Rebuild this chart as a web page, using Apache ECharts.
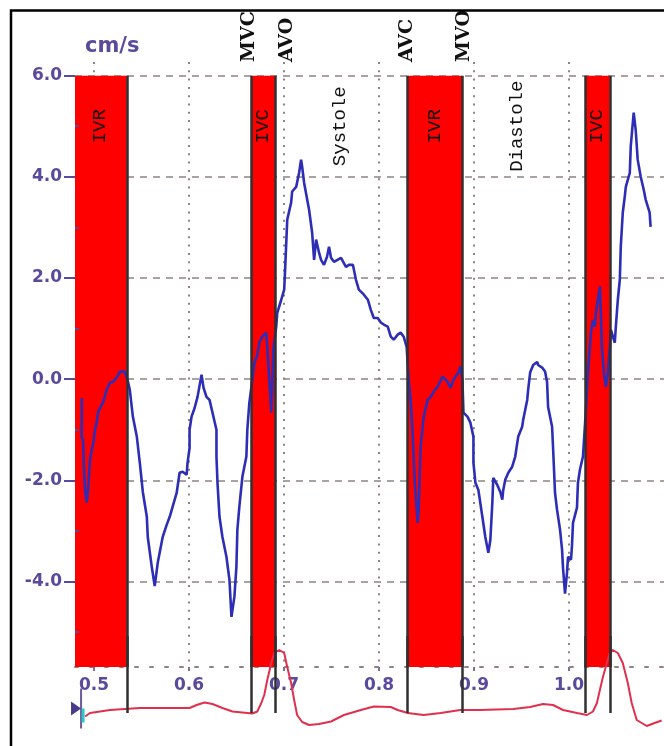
<!DOCTYPE html>
<html>
<head>
<meta charset="utf-8">
<script src="https://cdn.jsdelivr.net/npm/echarts@6/dist/echarts.min.js"></script>
<style>
  html, body { margin: 0; padding: 0; background: #ffffff; }
  #chart { width: 664px; height: 746px; }
</style>
</head>
<body>
<div id="chart"></div>
<script>
// Tissue Doppler velocity trace: time (s) and velocity (cm/s)
const velT = [0.4871,0.4871,0.4885,0.4895,0.4906,0.4923,0.4937,0.4958,0.4976,0.4993,0.5010,0.5028,0.5045,0.5081,0.5097,0.5133,0.5168,0.5202,0.5238,0.5273,0.5325,0.5360,0.5377,0.5409,0.5451,0.5482,0.5514,0.5556,0.5566,0.5608,0.5639,0.5671,0.5723,0.5765,0.5797,0.5828,0.5870,0.5901,0.5933,0.5975,0.5985,0.6006,0.6006,0.6027,0.6059,0.6090,0.6132,0.6153,0.6184,0.6216,0.6247,0.6289,0.6289,0.6300,0.6321,0.6352,0.6394,0.6426,0.6447,0.6478,0.6499,0.6509,0.6530,0.6562,0.6604,0.6614,0.6635,0.6667,0.6688,0.6719,0.6740,0.6771,0.6813,0.6824,0.6845,0.6866,0.6876,0.6887,0.6918,0.6929,0.6971,0.7002,0.7013,0.7034,0.7075,0.7086,0.7128,0.7159,0.7180,0.7191,0.7212,0.7264,0.7296,0.7317,0.7338,0.7369,0.7390,0.7421,0.7453,0.7474,0.7495,0.7526,0.7600,0.7652,0.7683,0.7725,0.7757,0.7788,0.7841,0.7883,0.7914,0.7945,0.7987,0.8019,0.8050,0.8092,0.8124,0.8155,0.8197,0.8228,0.8260,0.8291,0.8312,0.8333,0.8354,0.8375,0.8407,0.8417,0.8438,0.8470,0.8512,0.8543,0.8574,0.8616,0.8669,0.8721,0.8753,0.8784,0.8836,0.8857,0.8878,0.8889,0.8931,0.8962,0.8994,0.8994,0.9015,0.9046,0.9088,0.9119,0.9151,0.9172,0.9193,0.9203,0.9245,0.9277,0.9298,0.9308,0.9329,0.9361,0.9402,0.9434,0.9465,0.9507,0.9518,0.9560,0.9570,0.9591,0.9623,0.9665,0.9675,0.9717,0.9748,0.9769,0.9780,0.9822,0.9832,0.9853,0.9874,0.9906,0.9927,0.9937,0.9958,0.9979,0.9990,1.0021,1.0031,1.0042,1.0084,1.0094,1.0115,1.0147,1.0178,1.0199,1.0220,1.0231,1.0252,1.0273,1.0283,1.0304,1.0325,1.0335,1.0346,1.0367,1.0388,1.0409,1.0430,1.0440,1.0482,1.0493,1.0514,1.0535,1.0545,1.0566,1.0587,1.0598,1.0640,1.0650,1.0681,1.0702,1.0723,1.0755,1.0786,1.0807,1.0849,1.0859];
const velV = [-0.37,-1.16,-1.20,-1.79,-2.19,-2.44,-2.19,-1.59,-1.40,-1.26,-1.00,-0.86,-0.64,-0.51,-0.45,-0.21,-0.07,-0.05,0.03,0.15,0.15,-0.07,-0.21,-0.74,-1.14,-1.65,-2.23,-2.72,-3.12,-3.71,-4.09,-3.63,-3.12,-2.88,-2.72,-2.52,-2.25,-1.85,-1.83,-1.89,-1.65,-1.36,-1.00,-0.74,-0.57,-0.35,0.09,-0.17,-0.35,-0.41,-0.66,-1.00,-1.53,-2.05,-2.72,-3.12,-3.51,-3.97,-4.70,-4.30,-3.71,-2.98,-2.52,-1.93,-1.53,-1.00,-0.47,-0.01,0.32,0.48,0.72,0.84,0.92,0.64,-0.01,-0.66,-0.15,0.58,1.04,1.31,1.57,1.77,2.22,3.15,3.49,3.71,3.80,4.08,4.34,4.20,3.88,3.35,2.90,2.36,2.76,2.50,2.36,2.26,2.42,2.62,2.40,2.32,2.40,2.22,2.26,2.26,1.97,1.77,1.67,1.57,1.37,1.21,1.21,1.12,1.08,1.04,0.84,0.78,0.88,0.92,0.84,0.64,-0.01,-0.41,-1.06,-1.99,-2.84,-2.58,-1.34,-0.74,-0.41,-0.35,-0.25,-0.15,0.05,-0.05,-0.17,-0.01,0.13,0.25,-0.01,-0.66,-0.74,-0.86,-1.14,-1.65,-2.05,-2.19,-2.72,-3.12,-3.43,-3.18,-2.44,-1.95,-2.09,-2.23,-2.38,-2.19,-1.99,-1.85,-1.73,-1.53,-1.14,-0.94,-0.80,-0.41,-0.21,0.13,0.28,0.34,0.28,0.23,0.15,-0.05,-0.55,-0.94,-1.34,-2.25,-2.58,-2.98,-3.37,-3.73,-4.24,-3.83,-3.51,-3.57,-3.31,-2.84,-2.54,-2.05,-1.79,-1.53,-0.61,0.13,0.64,0.92,1.17,1.04,1.31,1.57,1.83,1.31,0.64,0.13,-0.15,0.13,0.64,0.98,0.72,1.04,1.57,1.97,2.62,3.29,3.61,3.80,4.08,4.60,5.27,4.93,4.34,4.00,3.75,3.55,3.29,3.01];

// ECG lead: time (s) and amplitude (mV)
const ecgT = [0.4906,0.4958,0.5063,0.5168,0.5482,0.6006,0.6080,0.6164,0.6247,0.6352,0.6457,0.6562,0.6667,0.6719,0.6761,0.6792,0.6824,0.6866,0.6897,0.6950,0.7002,0.7034,0.7075,0.7107,0.7138,0.7191,0.7264,0.7369,0.7495,0.7631,0.7809,0.7945,0.8124,0.8197,0.8302,0.8470,0.8648,0.8857,0.9067,0.9413,0.9591,0.9727,0.9832,0.9937,1.0084,1.0189,1.0252,1.0294,1.0325,1.0357,1.0398,1.0430,1.0461,1.0514,1.0566,1.0619,1.0660,1.0713,1.0818,1.0901,1.0975];
const ecgV = [-0.11,-0.04,-0.01,0.02,0.06,0.06,0.12,0.17,0.14,0.06,-0.01,-0.03,-0.05,-0.01,0.16,0.32,0.62,0.96,1.16,1.22,1.16,0.88,0.56,0.22,-0.08,-0.22,-0.28,-0.26,-0.21,-0.08,0.02,0.09,0.08,0.02,-0.04,-0.08,-0.04,0.02,0.02,0.04,0.08,0.14,0.12,0.02,-0.04,-0.08,-0.01,0.16,0.42,0.68,0.96,1.16,1.22,1.16,0.96,0.56,0.16,-0.18,-0.30,-0.24,-0.19];

// Isovolumic phases (s)
const phaseName  = ['IVR', 'IVC', 'IVR', 'IVC'];
const phaseStart = [0.478, 0.6653, 0.8299, 1.0168];
const phaseEnd   = [0.5346, 0.6908, 0.8875, 1.0430];

// Valve events (s); every phase edge gets a marker line
const valveT = [0.5346, 0.6653, 0.6908, 0.8299, 0.8875, 1.0168, 1.0430];
const valveLabel  = ['MVC', 'AVO', 'AVC', 'MVO'];
const valveLabelT = [0.6653, 0.6908, 0.8299, 0.8875];

// Ejection / filling periods
const cycleName = ['Systole', 'Diastole'];
const cycleT    = [0.7589, 0.9455];

// Axis ticks
const xTicks = [0.5, 0.6, 0.7, 0.8, 0.9, 1.0];
const yTicks = [-4, -2, 0, 2, 4, 6];
const yMinorTicks = [-5, -3, -1, 1, 3, 5];

// ---- layout & styling ----
const xMin = 0.48, xMax = 1.1;
const yMin = -5.69, yMax = 6.27;
const barTop = 6;
const textLevel = 5;
const ecgMin = -0.5, ecgMax = 1.5, ecgLineBottom = -0.04;

const purple = '#5a4a9c';
const gridColor = '#8e8282';
const monoFont = 'Liberation Mono';
const valveFont = 'DejaVu Serif';
// label offsets are given in the rotated text frame: [along text, across text]
const labelOffset = { AVO: [0, 12], MVC: [0, -2], MVO: [0, 2] };

const zip = (a, b) => a.map((v, i) => [v, b[i]]);

const chart = echarts.init(document.getElementById('chart'), null, { renderer: 'canvas' });

const axisLabelStyle = {
  color: purple, fontFamily: 'DejaVu Sans', fontWeight: 'bold', fontSize: 17
};

const option = {
  animation: false,
  backgroundColor: '#ffffff',
  graphic: [{
    type: 'polyline',
    shape: { points: [[11, 760], [11, 10.5], [680, 10.5]] },
    style: { stroke: '#000', lineWidth: 2.5, fill: null },
    z: 100
  }],
  grid: [
    { left: 75, top: 62, width: 592, height: 605 },
    { left: 75, top: 636, width: 592, height: 100 }
  ],
  xAxis: [
    {
      type: 'value', gridIndex: 0, min: xMin, max: xMax,
      axisLine: { show: true, onZero: false, lineStyle: { color: gridColor, width: 2, type: [3, 12] } },
      axisTick: { show: true, customValues: xTicks, length: 4, lineStyle: { color: '#7d6f95', width: 2 } },
      axisLabel: Object.assign({ customValues: xTicks, margin: 10, formatter: v => v.toFixed(1) }, axisLabelStyle),
      splitLine: { show: true, lineStyle: { color: gridColor, width: 2, type: [2, 6.3] } }
    },
    { type: 'value', gridIndex: 1, min: xMin, max: xMax, show: false }
  ],
  yAxis: [
    {
      type: 'value', gridIndex: 0, min: yMin, max: yMax, position: 'left',
      name: 'cm/s', nameLocation: 'end', nameGap: 5,
      nameTextStyle: { color: purple, fontFamily: 'DejaVu Sans', fontWeight: 'bold', fontSize: 21, align: 'left', verticalAlign: 'bottom', padding: [0, 0, 0, 10] },
      axisLine: { show: false, onZero: false },
      axisTick: { show: true, customValues: yTicks, length: 11, lineStyle: { color: purple, width: 2 } },
      axisLabel: Object.assign({ customValues: yTicks, margin: 13, formatter: v => v.toFixed(1) }, axisLabelStyle),
      splitLine: { show: true, lineStyle: { color: gridColor, width: 1.5, type: [7, 6] } }
    },
    {
      type: 'value', gridIndex: 0, min: yMin, max: yMax, position: 'left', z: 6,
      axisLine: { show: false, onZero: false },
      axisTick: { show: true, inside: true, customValues: yMinorTicks, length: 4, lineStyle: { color: purple, width: 2 } },
      axisLabel: { show: false },
      splitLine: { show: false }
    },
    { type: 'value', gridIndex: 1, min: ecgMin, max: ecgMax, show: false }
  ],
  series: [
    {
      name: 'phases', type: 'line', xAxisIndex: 0, yAxisIndex: 0, data: [], z: 1,
      markArea: {
        silent: true,
        itemStyle: { color: '#ff0000' },
        data: phaseStart.map((s, i) => [{ xAxis: s, yAxis: barTop }, { xAxis: phaseEnd[i], yAxis: yMin }])
      }
    },
    {
      name: 'valves', type: 'line', xAxisIndex: 0, yAxisIndex: 0, data: [], z: 2,
      markLine: {
        silent: true, symbol: ['none', 'none'],
        lineStyle: { color: '#303030', width: 2.5, type: 'solid' },
        label: { show: false },
        data: valveT.map(t => [{ coord: [t, barTop] }, { coord: [t, yMin] }])
      }
    },
    {
      name: 'valvesEcg', type: 'line', xAxisIndex: 1, yAxisIndex: 2, data: [], z: 2,
      markLine: {
        silent: true, symbol: ['none', 'none'],
        lineStyle: { color: '#303030', width: 2.5, type: 'solid' },
        label: { show: false },
        data: valveT.map(t => [{ coord: [t, ecgMax] }, { coord: [t, ecgLineBottom] }])
      }
    },
    {
      name: 'velocity', type: 'line', xAxisIndex: 0, yAxisIndex: 0, z: 4,
      data: zip(velT, velV), showSymbol: false,
      lineStyle: { color: '#2d2db6', width: 2.6 }
    },
    {
      name: 'ecg', type: 'line', xAxisIndex: 1, yAxisIndex: 2, z: 4,
      data: zip(ecgT, ecgV), showSymbol: false,
      lineStyle: { color: '#e0304e', width: 2 },
      markPoint: {
        silent: true,
        data: [
          { coord: [ecgT[0], ecgV[0]], symbol: 'rect', symbolSize: [2, 40], symbolOffset: [-4, -8], itemStyle: { color: '#6a5a9a' } },
          { coord: [ecgT[0], ecgV[0]], symbol: 'triangle', symbolSize: [14, 10], symbolRotate: -90, symbolOffset: [-9, -8], itemStyle: { color: '#4a3a8c' } },
          { coord: [ecgT[0], ecgV[0]], symbol: 'rect', symbolSize: [3, 14], symbolOffset: [-2, -1], itemStyle: { color: '#2cc8c8' } }
        ],
        label: { show: false }
      }
    },
    {
      name: 'texts', type: 'line', xAxisIndex: 0, yAxisIndex: 0, data: [], z: 5,
      markPoint: {
        silent: true, symbolSize: 0,
        data: [].concat(
          phaseName.map((n, i) => ({
            name: n, coord: [(phaseStart[i] + phaseEnd[i]) / 2, textLevel],
            label: { fontSize: 19 }
          })),
          cycleName.map((n, i) => ({
            name: n, coord: [cycleT[i], textLevel],
            label: { fontSize: 19 }
          })),
          valveLabel.map((n, i) => ({
            name: n, coord: [valveLabelT[i], yMax],
            label: { fontSize: 19, fontWeight: 'bold', fontFamily: valveFont, align: 'left', offset: labelOffset[n] || [0, 0] }
          }))
        ),
        label: {
          show: true, position: 'inside', rotate: 90,
          formatter: p => p.name,
          color: '#111', fontFamily: monoFont,
          align: 'center', verticalAlign: 'middle'
        }
      }
    }
  ]
};

chart.setOption(option);
</script>
</body>
</html>
